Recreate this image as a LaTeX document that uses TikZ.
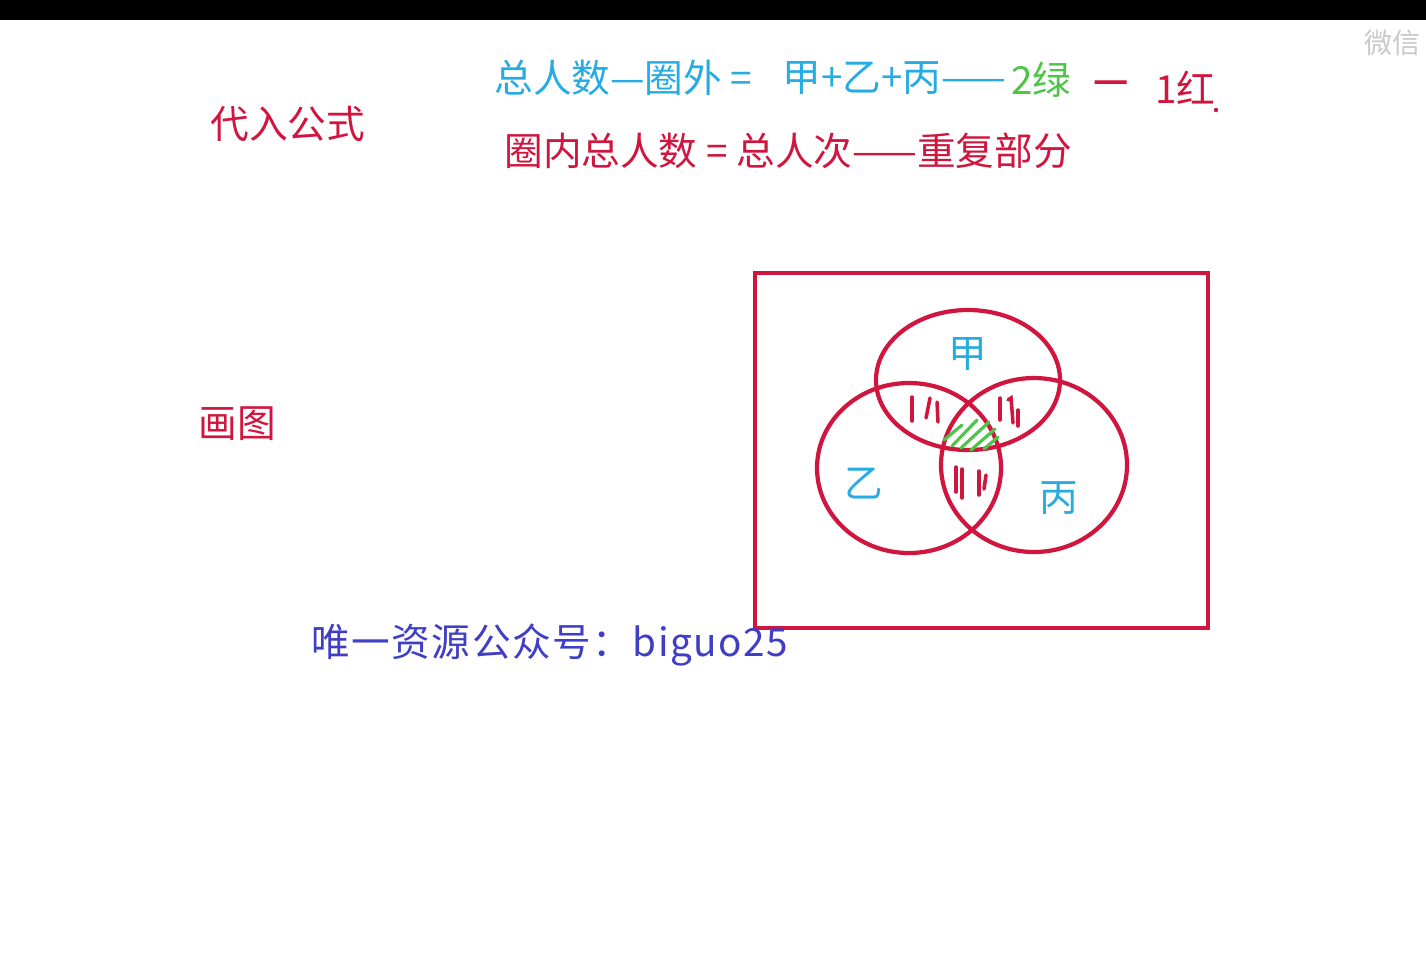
\documentclass[tikz,border=0pt]{standalone}
\usepackage{fontspec}
\setmainfont{Noto Sans CJK SC}
\usetikzlibrary{positioning}

\definecolor{penred}{RGB}{208,22,62}
\definecolor{pencyan}{RGB}{38,172,226}
\definecolor{pengreen}{RGB}{78,196,72}
\definecolor{penblue}{RGB}{64,62,196}
\definecolor{markgray}{RGB}{200,202,200}

\begin{document}
\begin{tikzpicture}[
            x=0.02cm, y=-0.02cm,
            % styles
            words/.style={anchor=west, inner sep=0pt, font=\fontsize{22pt}{26pt}\selectfont},
            ring/.style={draw=penred, line width=2.4pt},
            hatch/.style={draw=penred, line width=2pt, line cap=round},
            greenhatch/.style={draw=pengreen, line width=1.8pt, line cap=round}
        ]
        \useasboundingbox (0,0) rectangle (1426,968);
        \fill[white] (0,0) rectangle (1426,968);
        \fill[black] (0,0) rectangle (1426,20);

        % watermark
        \node (mark) [words, text=markgray, font=\fontsize{16pt}{18pt}\selectfont] at (1364,43) {微信};

        % formula lines
        \node (daoru) [words, text=penred] at (210,124) {代入公式};
        \node (lineA) [words, text=pencyan] at (494,78) {总人数—圈外 =};
        \node (sumA)  [words, text=pencyan] at (782,78) {甲+乙+丙——};
        \node (green) [words, text=pengreen] at (1011,80) {2绿};
        \node (minus) [words, text=penred, font=\fontsize{22pt}{26pt}\selectfont\addfontfeature{FakeBold=3}] at (1093,87) {—};
        \node (red)   [words, text=penred] at (1155,88) {1红};
        \fill[penred] (1216,110) circle (2.2);
        \node (lineB) [words, text=penred] at (504,151) {圈内总人数 = 总人次——重复部分};

        \node (huatu) [words, text=penred] at (198,424) {画图};

        % venn box
        \draw[ring] (755,273) rectangle (1208,628);
        \draw[ring] (968,380) ellipse (92 and 70);
        \draw[ring] (909,468) ellipse (92 and 85);
        \draw[ring] (1034,465) ellipse (93 and 87);

        \node (jia)  [words, text=pencyan, anchor=center] at (968,354) {甲};
        \node (yi)   [words, text=pencyan, anchor=center] at (864,484) {乙};
        \node (bing) [words, text=pencyan, anchor=center] at (1059,498) {丙};

        % double overlaps
        \draw[hatch] (912,397) -- (912,421);
        \draw[hatch] (930,398) -- (926,418);
        \draw[hatch] (937,402) -- (938,422);
        \draw[hatch] (1000,398) -- (1000,420);
        \draw[hatch] (1008,400) -- (1011,398) -- (1013,423);
        \draw[hatch] (1018,410) -- (1018,426);
        \draw[hatch] (956,467) -- (956,492);
        \draw[hatch] (962,469) -- (962,498);
        \draw[hatch] (979,471) -- (979,495);
        \draw[hatch] (986,475) -- (984,489);

        % triple overlap
        \draw[greenhatch] (944,440) -- (962,425);
        \draw[greenhatch] (952,446) -- (977,420);
        \draw[greenhatch] (961,448) -- (989,422);
        \draw[greenhatch] (971,450) -- (995,429);
        \draw[greenhatch] (984,449) -- (998,437);

        % footer
        \node (foot) [words, text=penblue, font=\fontsize{22pt}{26pt}\selectfont\addfontfeature{LetterSpace=4}] at (311,645) {唯一资源公众号：biguo25};
\end{tikzpicture}
\end{document}
